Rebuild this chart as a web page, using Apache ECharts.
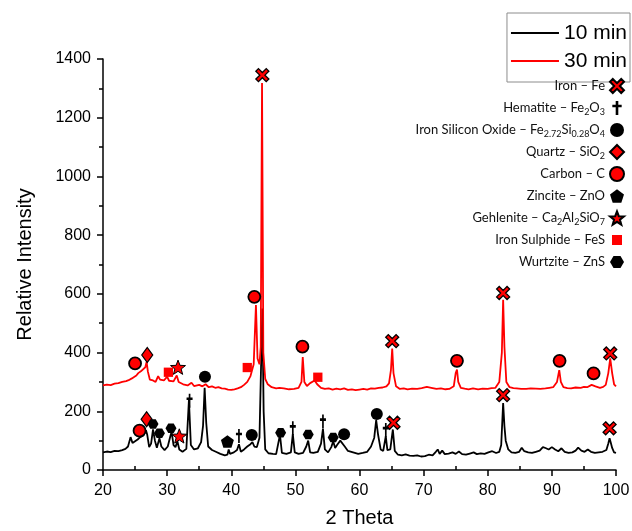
<!DOCTYPE html>
<html>
<head>
<meta charset="utf-8">
<script src="https://cdn.jsdelivr.net/npm/echarts@6/dist/echarts.min.js"></script>
<style>
html,body{margin:0;padding:0;background:#fff;}
#chart{width:632px;height:531px;}
</style>
</head>
<body>
<div id="chart"></div>
<script>
// ---------------- DATA ----------------
const seriesNames = ['10 min', '30 min'];

// 10 min pattern (2θ, relative intensity)
const twoTheta10 = [20.0,20.6,21.2,21.8,22.4,23.0,23.5,23.9,24.3,24.6,25.0,25.4,25.8,26.3,26.7,26.9,27.2,27.5,27.8,28.1,28.4,28.8,29.1,29.6,30.1,30.5,30.7,31.0,31.3,31.6,31.9,32.4,33.0,33.4,33.7,34.2,34.8,35.3,35.6,35.85,36.1,36.4,37.0,37.6,38.3,39.0,39.4,39.6,39.8,40.4,40.9,41.2,41.5,42.0,42.5,43.0,43.3,43.6,44.0,44.4,44.85,45.05,45.3,45.8,46.5,47.0,47.3,47.6,47.9,48.6,49.3,49.6,49.9,50.5,51.2,51.7,52.0,52.3,52.8,53.5,54.0,54.3,54.6,55.1,55.6,55.9,56.2,56.5,57.0,57.3,57.7,58.2,59.0,59.8,60.5,61.2,61.8,62.3,62.6,62.9,63.3,63.7,64.1,64.35,64.8,65.2,65.5,66.0,66.6,67.2,67.8,68.4,69.0,69.6,70.2,70.8,71.4,71.9,72.2,72.5,72.9,73.3,73.9,74.5,75.0,75.5,76.0,76.6,77.2,77.8,78.3,78.9,79.5,80.1,80.7,81.3,81.8,82.1,82.4,82.6,82.8,83.2,83.7,84.3,84.9,85.3,85.7,86.3,86.9,87.5,88.1,88.6,89.0,89.5,90.0,90.5,91.0,91.5,92.0,92.6,93.2,93.7,94.1,94.6,95.1,95.6,96.1,96.7,97.3,97.9,98.5,98.8,99.0,99.2,99.4,99.7,100.0];
const intensity10 = [60,63,61,65,64,68,72,80,112,92,98,104,112,118,135,120,78,90,138,100,76,108,80,68,80,115,130,85,78,98,70,62,72,238,85,70,74,95,150,280,160,80,68,62,55,50,52,70,55,60,68,88,62,70,80,88,95,80,78,110,550,200,70,57,55,54,58,120,58,55,60,122,60,55,58,80,100,60,58,62,90,140,70,60,78,98,75,85,100,105,80,65,60,55,58,62,80,110,170,120,70,65,115,68,70,138,65,52,50,53,49,48,50,46,47,52,50,62,70,55,66,54,56,60,55,63,54,52,56,60,54,57,55,60,64,58,62,85,228,150,100,70,60,58,62,76,64,60,58,62,66,78,75,70,78,70,64,74,62,58,60,66,76,66,62,70,62,58,60,62,68,90,108,92,75,60,58];

// 30 min pattern
const twoTheta30 = [20.0,20.6,21.2,21.8,22.4,23.0,23.6,24.0,24.5,24.8,25.2,25.5,25.9,26.2,26.6,26.8,27.0,27.3,27.8,28.2,28.6,28.9,29.5,30.0,30.3,31.0,31.5,31.8,32.5,33.2,33.8,34.2,35.0,35.5,36.0,36.5,37.0,37.5,38.0,38.5,39.0,39.5,40.0,40.5,41.0,41.5,42.0,42.5,43.0,43.5,43.85,44.1,44.4,44.6,44.8,45.0,45.3,45.7,46.3,47.0,47.5,48.2,49.0,49.8,50.5,50.95,51.15,51.4,51.8,52.3,52.6,53.0,53.4,54.0,54.6,55.2,55.8,56.4,57.0,57.6,58.2,58.8,59.4,60.0,60.6,61.2,61.8,62.4,63.0,63.6,64.2,64.6,64.9,65.1,65.3,65.7,66.3,66.9,67.5,68.2,69.0,69.7,70.5,71.2,72.0,72.7,73.4,74.0,74.7,75.0,75.2,75.4,75.8,76.4,77.0,77.7,78.5,79.2,80.0,80.6,81.2,81.8,82.2,82.4,82.6,82.9,83.4,84.0,84.5,85.2,86.0,86.7,87.5,88.2,89.0,89.6,90.2,90.8,91.15,91.4,91.8,92.4,93.0,93.7,94.5,95.0,95.5,96.2,96.5,96.8,97.5,98.0,98.4,98.8,99.1,99.4,99.7,100.0];
const intensity30 = [288,291,289,294,296,300,303,306,312,318,322,330,336,342,350,368,335,308,305,300,320,308,305,318,304,302,322,300,292,288,297,286,290,285,292,282,285,280,282,278,277,274,273,275,278,282,290,300,320,360,562,380,360,420,1318,400,310,292,282,278,280,278,275,276,280,300,385,300,286,296,300,305,292,280,276,278,274,277,275,278,273,275,272,274,276,274,278,277,280,281,285,295,340,414,330,285,276,278,275,277,276,279,283,280,276,278,275,276,285,330,342,300,280,277,275,278,275,277,276,279,280,300,400,580,420,300,282,279,278,276,276,278,277,276,278,280,282,300,340,300,282,279,278,281,280,283,282,290,296,285,280,283,290,330,380,330,292,285];

// Phase identification markers [2θ, intensity]
const phaseNames = ['Iron – Fe','Hematite – Fe2O3','Iron Silicon Oxide – Fe2.72Si0.28O4','Quartz – SiO2','Carbon – C','Zincite – ZnO','Gehlenite – Ca2Al2SiO7','Iron Sulphide – FeS','Wurtzite – ZnS'];
const phaseLabels = ['Iron – Fe','Hematite – Fe{s|2}O{s|3}','Iron Silicon Oxide – Fe{s|2.72}Si{s|0.28}O{s|4}','Quartz – SiO{s|2}','Carbon – C','Zincite – ZnO','Gehlenite – Ca{s|2}Al{s|2}SiO{s|7}','Iron Sulphide – FeS','Wurtzite – ZnS'];
const ironPts = [[44.85,1345],[65.1,439],[82.4,603],[99.1,397],[65.3,161],[82.4,255],[99.0,142]];
const hematitePts = [[33.5,236],[41.2,116],[49.6,142],[54.3,165],[64.1,136]];
const isoPts = [[35.9,318],[43.2,119],[57.6,122],[62.7,191]];
const quartzPts = [[26.9,392],[26.8,173]];
const carbonPts = [[25.0,363],[43.6,590],[51.1,420],[75.2,372],[91.2,372],[96.5,329],[25.7,134]];
const zincitePts = [[39.4,97]];
const gehlenitePts = [[31.7,350],[31.9,116]];
const fesPts = [[30.2,333],[42.5,349],[53.5,316]];
const wurtzitePts = [[27.8,157],[28.8,125],[30.6,142],[47.7,127],[52.0,121],[55.9,111]];

// ---------------- SYMBOLS ----------------
function poly(n, rO, rI, rot) {
  const m = rI ? 2 * n : n, pts = [];
  for (let i = 0; i < m; i++) {
    const r = rI ? (i % 2 ? rI : rO) : rO;
    const a = -Math.PI / 2 + i * 2 * Math.PI / m + (rot || 0);
    pts.push((50 + r * Math.cos(a)).toFixed(2) + ',' + (50 + r * Math.sin(a)).toFixed(2));
  }
  return 'path://M' + pts.join(' L') + ' Z';
}
const symX = 'path://M2,0 L5,3 L8,0 L10,2 L7,5 L10,8 L8,10 L5,7 L2,10 L0,8 L3,5 L0,2 Z';
const symDagger = 'path://M3.6,0 L6.4,0 L6.4,4 L10,4 L10,6.8 L6.4,6.8 L6.4,15 L3.6,15 L3.6,6.8 L0,6.8 L0,4 L3.6,4 Z';
const symStar = poly(5, 50, 21);
const symPent = poly(5, 50, 0);
const symHex = poly(6, 50, 0, Math.PI / 6);
const symSquare = 'path://M0,0 M14,14 M2,2 L12,2 L12,12 L2,12 Z';

const zip = (a, b) => a.map((v, i) => [v, b[i]]);
const AX = '#000';
const FONT = 'Liberation Sans, Arial, sans-serif';

const phaseDefs = [
  {data: ironPts, symbol: symX, size: 13, fill: '#ff0000', border: '#000', bw: 1.3},
  {data: hematitePts, symbol: symDagger, size: [9, 14], fill: '#000', border: '#000', bw: 0},
  {data: isoPts, symbol: 'circle', size: 12, fill: '#000', border: '#000', bw: 0},
  {data: quartzPts, symbol: 'diamond', size: [11, 15], fill: '#ff0000', border: '#000', bw: 1.2},
  {data: carbonPts, symbol: 'circle', size: 12, fill: '#ff0000', border: '#000', bw: 1.8},
  {data: zincitePts, symbol: symPent, size: 13, fill: '#000', border: '#000', bw: 0},
  {data: gehlenitePts, symbol: symStar, size: 15, fill: '#ff0000', border: '#000', bw: 1},
  {data: fesPts, symbol: symSquare, size: 13, fill: '#ff0000', border: '#ff0000', bw: 0},
  {data: wurtzitePts, symbol: symHex, size: 11, fill: '#000', border: '#000', bw: 0}
];

const series = [
  {name: seriesNames[0], type: 'line', data: zip(twoTheta10, intensity10), symbol: 'none', showSymbol: false,
   lineStyle: {color: '#000', width: 1.8}, itemStyle: {color: '#000'}, z: 2},
  {name: seriesNames[1], type: 'line', data: zip(twoTheta30, intensity30), symbol: 'none', showSymbol: false,
   lineStyle: {color: '#ff0000', width: 1.8}, itemStyle: {color: '#ff0000'}, z: 2}
];
phaseDefs.forEach((p, i) => {
  series.push({
    name: phaseNames[i], type: 'scatter', data: p.data, symbol: p.symbol, symbolSize: p.size,
    symbolKeepAspect: true, z: 5,
    itemStyle: {color: p.fill, borderColor: p.border, borderWidth: p.bw, opacity: 1},
    emphasis: {disabled: true}
  });
});

const chart = echarts.init(document.getElementById('chart'), null, {renderer: 'canvas'});
chart.setOption({
  animation: false,
  backgroundColor: '#fff',
  grid: {left: 103, right: 16, top: 59, bottom: 61, containLabel: false, outerBoundsMode: 'none'},
  legend: [
    {data: seriesNames, orient: 'vertical', right: 2, top: 13, itemWidth: 48, itemHeight: 2, itemGap: 6,
     icon: 'rect',
     padding: [9, 3, 10, 4], borderColor: '#8c8c8c', borderWidth: 1, selectedMode: false,
     textStyle: {fontFamily: FONT, fontSize: 21, color: '#000', lineHeight: 22}},
    {data: phaseNames, orient: 'vertical', right: 7, top: 77, align: 'right', itemWidth: 14, itemHeight: 14,
     itemGap: 4, padding: 0, selectedMode: false,
     formatter: name => phaseLabels[phaseNames.indexOf(name)],
     textStyle: {fontFamily: 'Lato, sans-serif', fontSize: 13, color: '#111', lineHeight: 18,
       rich: {s: {fontFamily: 'Lato, sans-serif', fontSize: 9, color: '#111', verticalAlign: 'bottom'}}}}
  ],
  xAxis: [
    {type: 'value', min: 20, max: 100, interval: 10, name: '2 Theta', nameLocation: 'middle', nameGap: 38,
     nameTextStyle: {fontFamily: FONT, fontSize: 20, color: '#000'},
     axisLine: {show: true, lineStyle: {color: AX, width: 1.5}},
     axisTick: {show: true, length: 6, lineStyle: {color: AX, width: 1.5}},
     axisLabel: {fontFamily: FONT, fontSize: 16, color: '#000', margin: 13, formatter: v => String(v)},
     splitLine: {show: false}},
    {type: 'value', min: 20, max: 100, interval: 10, position: 'bottom',
     axisLine: {show: false},
     axisTick: {show: true, inside: true, length: 1, lineStyle: {color: 'rgba(0,0,0,0)'}},
     minorTick: {show: true, splitNumber: 2, length: 4, lineStyle: {color: AX, width: 1.5}},
     axisLabel: {show: false}, splitLine: {show: false}}
  ],
  yAxis: {type: 'value', min: 0, max: 1400, interval: 200, name: 'Relative Intensity', nameLocation: 'middle',
    nameGap: 68, nameTextStyle: {fontFamily: FONT, fontSize: 20, color: '#000'},
    axisLine: {show: true, lineStyle: {color: AX, width: 1.5}},
    axisTick: {show: true, length: 6, lineStyle: {color: AX, width: 1.5}},
    minorTick: {show: true, splitNumber: 2, length: 4, lineStyle: {color: AX, width: 1.5}},
    axisLabel: {fontFamily: FONT, fontSize: 16, color: '#000', margin: 12, formatter: v => String(v)},
    splitLine: {show: false}},
  series: series
});
</script>
</body>
</html>
